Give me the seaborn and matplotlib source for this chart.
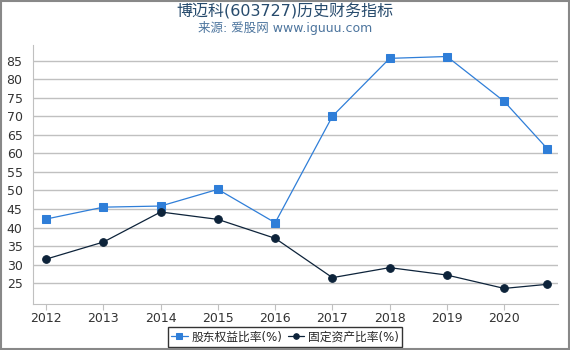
import matplotlib
matplotlib.use("Agg")
import matplotlib.pyplot as plt
import seaborn as sns
import pandas as pd

years = [2012, 2013, 2014, 2015, 2016, 2017, 2018, 2019, 2020, 2020.75]
tick_years = [2012, 2013, 2014, 2015, 2016, 2017, 2018, 2019, 2020]
equity_ratio = [42.3, 45.5, 45.8, 50.3, 41.3, 70.0, 85.6, 86.1, 74.0, 61.3]
fixed_ratio = [31.5, 36.1, 44.2, 42.2, 37.1, 26.5, 29.2, 27.2, 23.6, 24.7]
yticks = [25, 30, 35, 40, 45, 50, 55, 60, 65, 70, 75, 80, 85]
s1 = "股东权益比率(%)"
s2 = "固定资产比率(%)"

df = pd.DataFrame({"x": years * 2,
                   "v": equity_ratio + fixed_ratio,
                   "s": [s1] * len(years) + [s2] * len(years)})

sns.set_style("white")
plt.rcParams['font.family'] = ['DejaVu Sans', 'Noto Sans CJK SC']

fig = plt.figure(figsize=(5.7, 3.5), dpi=100)
ax = fig.add_axes([33/570, 1 - 304/350, (558-33)/570, (304-45)/350])

blue = "#2f7ed8"
dark = "#0d233a"
sns.lineplot(data=df[df.s == s1], x="x", y="v", ax=ax, color=blue, marker="s",
             markersize=5.5, markeredgecolor=blue, linewidth=0.9, label=s1)
sns.lineplot(data=df[df.s == s2], x="x", y="v", ax=ax, color=dark, marker="o",
             markersize=5.5, markeredgecolor=dark, linewidth=0.9, label=s2)

ax.set_xlim(2011.77, 2020.94)
ax.set_ylim(19.4, 89.2)
ax.set_xticks(tick_years)
ax.set_xticklabels([str(y) for y in tick_years])
ax.set_yticks(yticks)
ax.yaxis.grid(True, color="#c0c0c0", linewidth=1)
ax.xaxis.grid(False)
ax.set_xlabel("")
ax.set_ylabel("")
for sp in ["top", "right"]:
    ax.spines[sp].set_visible(False)
ax.spines["left"].set_color("#c0c0c0")
ax.spines["bottom"].set_color("#c0c0c0")
ax.tick_params(axis="x", bottom=True, length=4, color="#c0c0c0", labelsize=9, labelcolor="#333333", pad=2)
ax.tick_params(axis="y", left=False, labelsize=9, labelcolor="#333333", pad=4)

fig.text(0.5, 1 - 11/350, "博迈科(603727)历史财务指标", ha="center", va="center",
         fontsize=11.5, color="#274b6d")
fig.text(0.5, 1 - 28/350, "来源: 爱股网 www.iguuu.com", ha="center", va="center",
         fontsize=9, color="#4d759e")

leg = ax.legend(loc="center", bbox_to_anchor=(285/570, 1 - 337/350),
                bbox_transform=fig.transFigure, ncol=2, frameon=True, fontsize=8.5,
                handlelength=1.4, handletextpad=0.3, columnspacing=0.5,
                borderpad=0.3, fancybox=False, edgecolor="black")
leg.get_frame().set_linewidth(1)
for h in leg.legend_handles:
    h.set_markersize(4)

# figure border
fig.patches.append(plt.Rectangle((0.002, 0.002), 0.996, 0.996, transform=fig.transFigure,
                                 fill=False, edgecolor="#888888", linewidth=1.5))

fig.savefig("out.png", dpi=100)
